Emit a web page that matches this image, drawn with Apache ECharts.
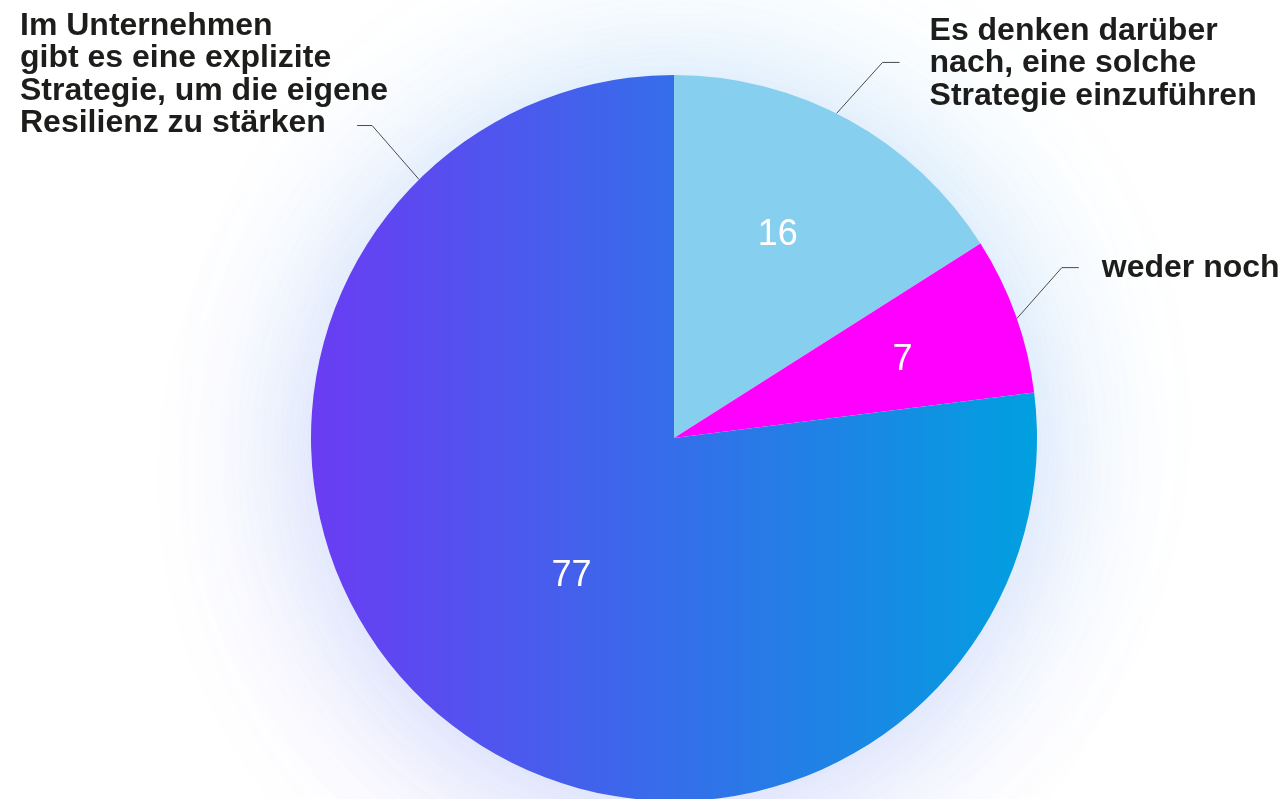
<!DOCTYPE html>
<html><head><meta charset="utf-8">
<script src="https://cdn.jsdelivr.net/npm/echarts@6/dist/echarts.min.js"></script>
<style>html,body{margin:0;padding:0;background:#fff}#c{width:1283px;height:799px}</style>
</head><body><div id="c"></div>
<script>
// ---- data ----
const categories = [
  'Es denken darüber\nnach, eine solche\nStrategie einzuführen',
  'weder noch',
  'Im Unternehmen\ngibt es eine explizite\nStrategie, um die eigene\nResilienz zu stärken'
];
const values = [16, 7, 77];

// ---- layout / style ----
const CX = 674, CY = 438, R = 363;
const rad = d => d * Math.PI / 180;
const polar = (ang, r) => [CX + r * Math.cos(rad(ang)), CY - r * Math.sin(rad(ang))];
const sliceColors = [
  '#87cfef',
  '#ff00ff',
  new echarts.graphic.LinearGradient(0, 0, 1, 0, [
    { offset: 0, color: '#6a3cf3' },
    { offset: 1, color: '#00a0e0' }
  ])
];
const LEADER = [
  { ang: 63.4, dx: 46, dy: -51, h: 17, gap: 30, side: 'right' },
  { ang: 19.2, dx: 45, dy: -51, h: 17, gap: 23, side: 'right' },
  { ang: 134.6, dx: -47, dy: -54, h: -15, side: 'left' }
];
const VAL_POS = [{ ang: 63.2, r: 230 }, { ang: 19.3, r: 242 }, { ang: 232.9, r: 170 }];
const FONT = '"Liberation Sans", Arial, Helvetica, sans-serif';

const chart = echarts.init(document.getElementById('c'), null, { renderer: 'canvas' });

const mainData = values.map((v, i) => ({
  name: categories[i], value: v, itemStyle: { color: sliceColors[i] }
}));

const option = {
  animation: false,
  backgroundColor: '#ffffff',
  series: [
    {
      type: 'pie', silent: true, z: 1,
      center: [CX, CY], radius: R - 4,
      data: [{ value: 1, name: 'halo1' }],
      label: { show: false }, labelLine: { show: false },
      itemStyle: { color: '#ffffff', shadowBlur: 160, shadowColor: 'rgba(0,170,232,0.17)', shadowOffsetX: 10, shadowOffsetY: -15 }
    },
    {
      type: 'pie', silent: true, z: 1,
      center: [CX, CY], radius: R - 4,
      data: [{ value: 1, name: 'halo2' }],
      label: { show: false }, labelLine: { show: false },
      itemStyle: { color: '#ffffff', shadowBlur: 160, shadowColor: 'rgba(105,60,240,0.16)', shadowOffsetX: -15, shadowOffsetY: 40 }
    },
    {
      type: 'pie', z: 2,
      center: [CX, CY], radius: R,
      startAngle: 90, clockwise: true,
      avoidLabelOverlap: false,
      emphasis: { disabled: true },
      itemStyle: { borderWidth: 0 },
      data: mainData,
      label: {
        show: true, position: 'outside', formatter: '{b}',
        color: '#1d1d1b', fontSize: 32, fontWeight: 'bold', lineHeight: 32.5, fontFamily: FONT
      },
      labelLine: { show: true, lineStyle: { color: '#4a4a4a', width: 1 } },
      labelLayout: function (p) {
        const L = LEADER[p.dataIndex];
        const p0 = polar(L.ang, R);
        const p1 = [p0[0] + L.dx, p0[1] + L.dy];
        const p2 = [p1[0] + L.h, p1[1]];
        if (L.side === 'right') {
          return { x: p2[0] + L.gap, y: p1[1] + 1, align: 'left', verticalAlign: 'middle', labelLinePoints: [p0, p1, p2] };
        }
        return { x: 20, y: p1[1] + 14, align: 'left', verticalAlign: 'bottom', labelLinePoints: [p0, p1, p2] };
      }
    },
    {
      type: 'pie', z: 3, silent: true,
      center: [CX, CY], radius: R,
      startAngle: 90, clockwise: true,
      avoidLabelOverlap: false,
      itemStyle: { color: 'rgba(0,0,0,0)', borderWidth: 0 },
      data: values.map((v, i) => ({ name: 'v' + i, value: v })),
      label: {
        show: true, position: 'inside', formatter: '{c}',
        color: '#ffffff', fontSize: 36, fontFamily: FONT
      },
      labelLine: { show: false },
      labelLayout: function (p) {
        const P = VAL_POS[p.dataIndex];
        const pt = polar(P.ang, P.r);
        return { x: pt[0], y: pt[1] + 2, align: 'center', verticalAlign: 'middle' };
      }
    }
  ]
};
chart.setOption(option);
</script></body></html>
